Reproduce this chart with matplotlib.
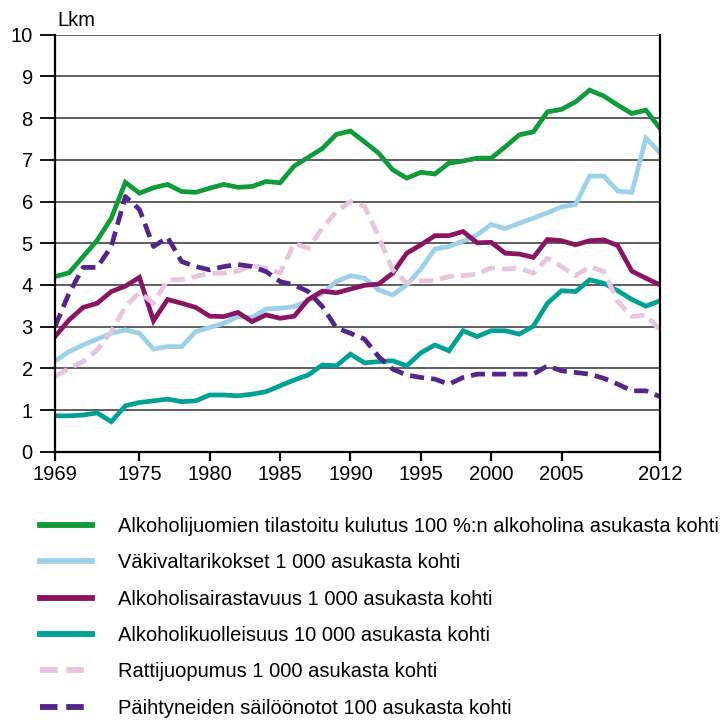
import numpy as np
import matplotlib.pyplot as plt

plt.rcParams['font.family'] = ['Liberation Sans', 'DejaVu Sans']

# vuodet
vuodet = list(range(1969, 2013))

# Alkoholijuomien tilastoitu kulutus (l / asukas)
kulutus = [4.2, 4.29, 4.68, 5.07, 5.6, 6.46, 6.2, 6.33, 6.41, 6.24, 6.22, 6.32,
           6.41, 6.34, 6.36, 6.48, 6.45, 6.85, 7.06, 7.27, 7.61, 7.69, 7.43, 7.16,
           6.76, 6.56, 6.7, 6.66, 6.92, 6.97, 7.04, 7.04, 7.31, 7.6, 7.67, 8.15,
           8.21, 8.39, 8.67, 8.53, 8.31, 8.11, 8.19, 7.75]
# Väkivaltarikokset
vakivalta = [2.18, 2.4, 2.56, 2.7, 2.84, 2.92, 2.84, 2.46, 2.52, 2.52, 2.88, 2.98,
             3.08, 3.24, 3.22, 3.42, 3.44, 3.48, 3.62, 3.8, 4.08, 4.22, 4.16, 3.88,
             3.76, 4.0, 4.38, 4.86, 4.92, 5.05, 5.2, 5.45, 5.35, 5.48, 5.6, 5.73,
             5.87, 5.93, 6.61, 6.61, 6.25, 6.22, 7.52, 7.17]
# Alkoholisairastavuus
sairastavuus = [2.76, 3.16, 3.46, 3.56, 3.84, 3.97, 4.18, 3.14, 3.65, 3.56, 3.46, 3.25,
                3.24, 3.34, 3.12, 3.28, 3.2, 3.25, 3.65, 3.85, 3.81, 3.9, 3.99, 4.02,
                4.28, 4.76, 4.96, 5.18, 5.18, 5.28, 5.01, 5.02, 4.76, 4.74, 4.66, 5.09,
                5.06, 4.96, 5.06, 5.08, 4.94, 4.33, 4.16, 4.0]
# Alkoholikuolleisuus
kuolleisuus = [0.86, 0.86, 0.88, 0.93, 0.72, 1.1, 1.18, 1.22, 1.26, 1.2, 1.22, 1.36,
               1.36, 1.34, 1.38, 1.44, 1.58, 1.72, 1.84, 2.08, 2.06, 2.34, 2.13, 2.16,
               2.18, 2.06, 2.37, 2.56, 2.42, 2.9, 2.76, 2.9, 2.9, 2.82, 3.01, 3.56,
               3.86, 3.84, 4.12, 4.04, 3.86, 3.65, 3.49, 3.62]
# Rattijuopumus
rattijuopumus = [1.8, 2.0, 2.16, 2.44, 2.88, 3.48, 3.82, 3.56, 4.12, 4.13, 4.2, 4.28,
                 4.28, 4.33, 4.46, 4.4, 4.28, 5.0, 4.88, 5.36, 5.76, 6.0, 5.88, 5.16,
                 4.36, 4.05, 4.1, 4.1, 4.2, 4.22, 4.26, 4.41, 4.38, 4.4, 4.28, 4.64,
                 4.44, 4.22, 4.44, 4.32, 3.6, 3.24, 3.28, 2.92]
# Päihtyneiden säilöönotot
sailoonotot = [3.0, 3.8, 4.42, 4.42, 4.92, 6.12, 5.81, 4.92, 5.14, 4.56, 4.44, 4.36,
               4.44, 4.49, 4.44, 4.32, 4.08, 4.0, 3.84, 3.48, 2.97, 2.84, 2.7, 2.28,
               1.98, 1.84, 1.78, 1.74, 1.62, 1.78, 1.86, 1.86, 1.86, 1.86, 1.86, 2.06,
               1.94, 1.9, 1.86, 1.76, 1.62, 1.46, 1.46, 1.32]

selitteet = ['Alkoholijuomien tilastoitu kulutus 100 %:n alkoholina asukasta kohti',
             'Väkivaltarikokset 1 000 asukasta kohti',
             'Alkoholisairastavuus 1 000 asukasta kohti',
             'Alkoholikuolleisuus 10 000 asukasta kohti',
             'Rattijuopumus 1 000 asukasta kohti',
             'Päihtyneiden säilöönotot 100 asukasta kohti']
x_tikit = [1969, 1975, 1980, 1985, 1990, 1995, 2000, 2005, 2012]

fs = 14.5
fig = plt.figure(figsize=(7.21, 7.25), dpi=100)
ax = fig.add_axes([55/721, 1 - 451.7/725, 605/721, 417/725])

lw = 3.4
viiva = {}
viiva['vak'], = ax.plot(vuodet, vakivalta, color='#9dd1ea', lw=lw, solid_joinstyle='miter')
viiva['sai'], = ax.plot(vuodet, sairastavuus, color='#8a1462', lw=lw, solid_joinstyle='miter')
viiva['kuo'], = ax.plot(vuodet, kuolleisuus, color='#00a194', lw=lw, solid_joinstyle='miter')
viiva['rat'], = ax.plot(vuodet, rattijuopumus, color='#e8c4de', lw=lw, dashes=(3, 1.5))
viiva['sal'], = ax.plot(vuodet, sailoonotot, color='#56258a', lw=lw, dashes=(3, 1.5))
viiva['kul'], = ax.plot(vuodet, kulutus, color='#0f9b3a', lw=lw, solid_joinstyle='miter')

ax.set_xlim(1969, 2012)
ax.set_ylim(0, 10)
ax.set_yticks(range(0, 11))
ax.set_xticks(x_tikit)
ax.grid(axis='y', color='#333333', lw=1.1)
ax.set_axisbelow(True)
ax.spines['top'].set_visible(False)
for s in ['left', 'right', 'bottom']:
    ax.spines[s].set_linewidth(1.6)
    ax.spines[s].set_color('black')
ax.tick_params(axis='y', direction='out', length=11, width=1.3, pad=5, labelsize=fs)
ax.tick_params(axis='x', direction='out', length=6.5, width=1.6, pad=3, labelsize=fs)

fig.text(57/721, 1 - 20/725, 'Lkm', fontsize=fs, va='center', ha='left')

kahvat = [viiva['kul'], viiva['vak'], viiva['sai'], viiva['kuo'], viiva['rat'], viiva['sal']]
leg = fig.legend(kahvat, selitteet, loc='upper left', bbox_to_anchor=(40/721, 1 - 517/725),
                 frameon=False, fontsize=fs, handlelength=2.6, handletextpad=1.25,
                 labelspacing=0.86, borderpad=0, borderaxespad=0)
for h in leg.get_lines():
    h.set_linewidth(4.2)

fig.savefig('out.png', dpi=100)
